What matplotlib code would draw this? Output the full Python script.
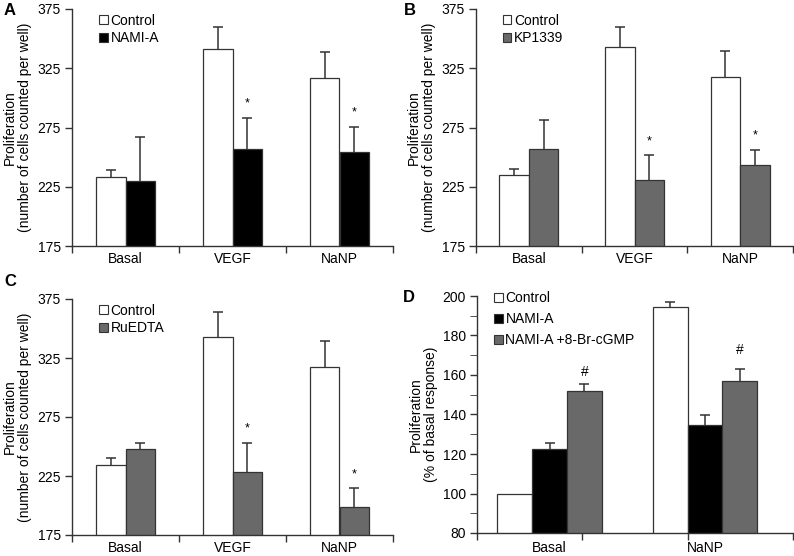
import matplotlib.pyplot as plt
from matplotlib.patches import Patch
import numpy as np

plt.rcParams['font.family'] = ['Liberation Sans', 'DejaVu Sans']
plt.rcParams['font.size'] = 10

W, H = 794, 556

groups_abc = ["Basal", "VEGF", "NaNP"]
groups_d = ["Basal", "NaNP"]

# panel A
a_ctrl = [233, 341, 316.5]
a_ctrl_err = [6, 19, 22]
a_nami = [230, 257, 254.5]
a_nami_err = [37, 26, 21]

# panel B
b_ctrl = [235, 343, 317.5]
b_ctrl_err = [5, 16.5, 22]
b_kp = [256.5, 230.5, 243]
b_kp_err = [24.5, 21, 13]

# panel C
c_ctrl = [234.5, 343, 317]
c_ctrl_err = [5.5, 21, 22]
c_ru = [248, 228, 199]
c_ru_err = [5, 25, 15.5]

# panel D
d_ctrl = [100, 194.3]
d_ctrl_err = [0, 2.8]
d_nami = [122.5, 134.6]
d_nami_err = [3, 5]
d_cgmp = [152, 157]
d_cgmp_err = [3.2, 6]

GRAY = "#696969"
EDGE = "#333333"


def px_axes(fig, left, top, right, bottom):
    return fig.add_axes([left / W, 1 - bottom / H, (right - left) / W, (bottom - top) / H])


def style_axes(ax):
    for s in ["top", "right"]:
        ax.spines[s].set_visible(False)
    for s in ["left", "bottom"]:
        ax.spines[s].set_color(EDGE)
        ax.spines[s].set_linewidth(1.0)
    ax.tick_params(axis="both", color=EDGE, length=5, width=1.0, labelsize=10, pad=3)


def draw_bar(ax, x, vals, errs, width, color):
    vals = np.asarray(vals, float)
    errs = np.asarray(errs, float)
    ax.bar(x, vals, width, color=color, edgecolor=EDGE, linewidth=0.9, zorder=2)
    # upper error only
    keep = errs > 0
    ax.vlines(x[keep], vals[keep], vals[keep] + errs[keep], color=EDGE, linewidth=1.1, zorder=1)
    ax.plot(x[keep], vals[keep] + errs[keep], ls="none", marker="_", markersize=6.5,
            markeredgewidth=1.1, color=EDGE, zorder=1)


def panel_abc(ax, ctrl, ctrl_err, trt, trt_err, trt_color, trt_name, star_idx):
    x = np.arange(len(groups_abc))
    w = 0.28
    draw_bar(ax, x - w / 2, ctrl, ctrl_err, w, "white")
    draw_bar(ax, x + w / 2, trt, trt_err, w, trt_color)
    for i in star_idx:
        ax.annotate("*", (x[i] + w / 2, trt[i] + trt_err[i]), xytext=(0, 6),
                    textcoords="offset points", ha="center", va="bottom", fontsize=9)
    ax.set_xlim(-0.5, len(groups_abc) - 0.5)
    ax.set_ylim(175, 375)
    ax.set_yticks([175, 225, 275, 325, 375])
    ax.set_xticks([-0.5, 0.5, 1.5, 2.5])
    ax.set_xticklabels([])
    ax.set_xticks(x, minor=True)
    ax.set_xticklabels(groups_abc, minor=True)
    ax.tick_params(axis="x", which="minor", length=0, pad=4)
    ax.set_ylabel("Proliferation\n(number of cells counted per well)", fontsize=10, labelpad=4,
                  linespacing=1.1)
    style_axes(ax)
    handles = [Patch(facecolor="white", edgecolor=EDGE, linewidth=0.8, label="Control"),
               Patch(facecolor=trt_color, edgecolor=EDGE, linewidth=0.8, label=trt_name)]
    ax.legend(handles=handles, loc="upper left", bbox_to_anchor=(0.085, 0.98), frameon=False,
              handlelength=0.6, handleheight=0.6, handletextpad=0.2, borderpad=0,
              borderaxespad=0, labelspacing=0.25, fontsize=10)


fig = plt.figure(figsize=(W / 100, H / 100), dpi=100)

axA = px_axes(fig, 72, 9, 393, 246)
panel_abc(axA, a_ctrl, a_ctrl_err, a_nami, a_nami_err, "black", "NAMI-A", [1, 2])
axB = px_axes(fig, 476, 9, 793, 246)
panel_abc(axB, b_ctrl, b_ctrl_err, b_kp, b_kp_err, GRAY, "KP1339", [1, 2])
axC = px_axes(fig, 72, 299, 393, 535)
panel_abc(axC, c_ctrl, c_ctrl_err, c_ru, c_ru_err, GRAY, "RuEDTA", [1, 2])

# panel D
axD = px_axes(fig, 477, 296, 793, 533)
xd = np.array([0.689, 2.165])
wd = 0.33
draw_bar(axD, xd - wd, d_ctrl, d_ctrl_err, wd, "white")
draw_bar(axD, xd, d_nami, d_nami_err, wd, "black")
draw_bar(axD, xd + wd, d_cgmp, d_cgmp_err, wd, GRAY)
hash_off = [4, 9]
for i in range(len(groups_d)):
    axD.annotate("#", (xd[i] + wd, d_cgmp[i] + d_cgmp_err[i]), xytext=(0, hash_off[i]),
                 textcoords="offset points", ha="center", va="bottom", fontsize=10)
axD.set_xlim(0, 3)
axD.set_ylim(80, 200)
axD.set_yticks(np.arange(80, 201, 20))
axD.set_yticks(np.arange(90, 200, 20), minor=True)
axD.tick_params(axis="y", which="minor", length=5, color=EDGE)
axD.set_xticks([0, 1, 2, 3])
axD.set_xticklabels([])
axD.set_xticks(xd, minor=True)
axD.set_xticklabels(groups_d, minor=True)
axD.tick_params(axis="x", which="minor", length=0, pad=6)
axD.set_ylabel("Proliferation\n(% of basal response)", fontsize=10, labelpad=3, linespacing=1.1)
style_axes(axD)
handles_d = [Patch(facecolor="white", edgecolor=EDGE, linewidth=0.8, label="Control"),
             Patch(facecolor="black", edgecolor=EDGE, linewidth=0.8, label="NAMI-A"),
             Patch(facecolor=GRAY, edgecolor=EDGE, linewidth=0.8, label="NAMI-A +8-Br-cGMP")]
axD.legend(handles=handles_d, loc="upper left", bbox_to_anchor=(0.055, 1.02), frameon=False,
           handlelength=0.6, handleheight=0.6, handletextpad=0.2, borderpad=0,
           borderaxespad=0, labelspacing=0.5, fontsize=10)

# panel letters
for lab, xp, yp in [("A", 4, 3), ("B", 404, 3), ("C", 4, 274), ("D", 403, 290)]:
    fig.text(xp / W, 1 - yp / H, lab, fontsize=12, fontweight="bold", ha="left", va="top")

fig.savefig("out.png", dpi=100)
